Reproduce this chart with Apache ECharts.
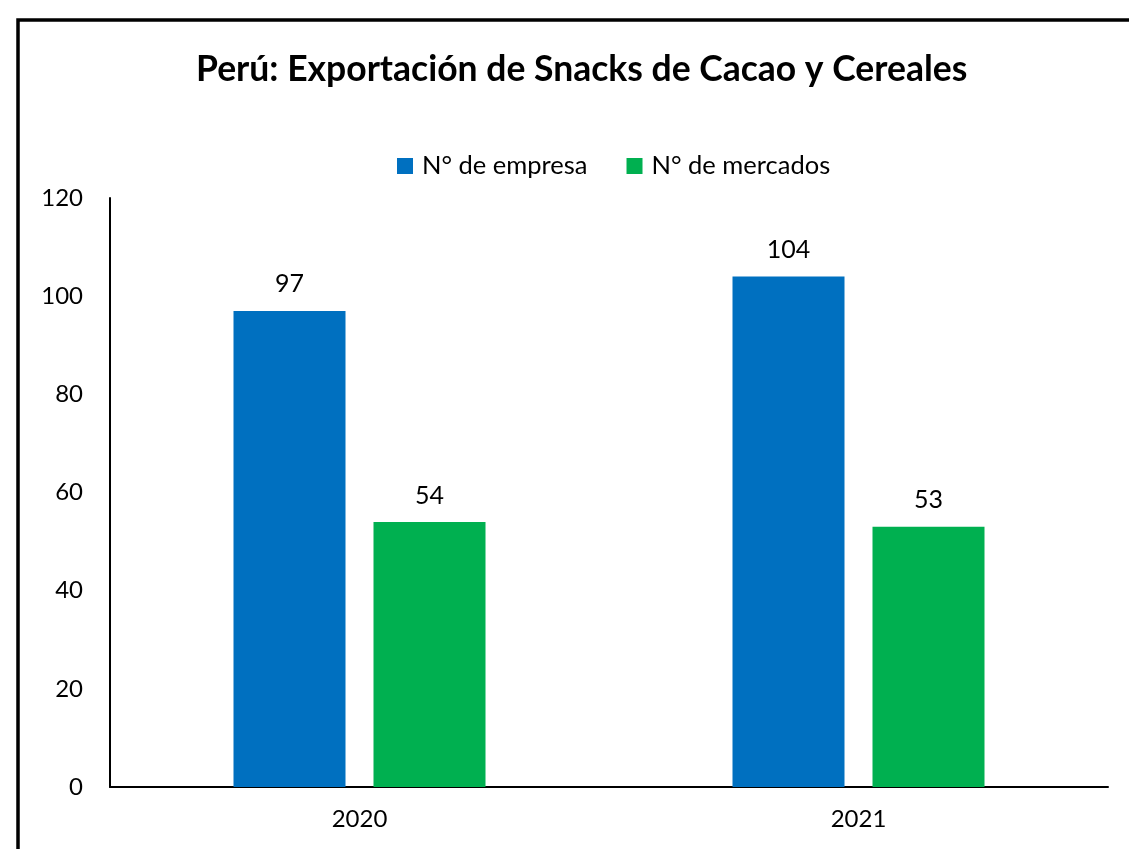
<!DOCTYPE html>
<html>
<head>
<meta charset="utf-8">
<script src="https://cdn.jsdelivr.net/npm/echarts@6/dist/echarts.min.js"></script>
<style>
  html, body { margin: 0; padding: 0; background: #fff; }
  #chart { width: 1129px; height: 849px; }
</style>
</head>
<body>
<div id="chart"></div>
<script>
const years = ['2020', '2021'];
const empresas = [97, 104];
const mercados = [54, 53];
const yTicks = [0, 20, 40, 60, 80, 100, 120];

const chart = echarts.init(document.getElementById('chart'));
const fontFamily = 'Lato, "Open Sans", sans-serif';

const labelStyle = {
    show: true,
    position: 'top',
    distance: 14,
    color: '#000',
    fontSize: 25,
    fontFamily: fontFamily
};

chart.setOption({
    animation: false,
    title: {
        text: 'Perú: Exportación de Snacks de Cacao y Cereales',
        left: 191,
        top: 47,
        textStyle: { fontSize: 35.5, fontWeight: 'bold', color: '#000', fontFamily: fontFamily }
    },
    legend: {
        top: 148,
        left: 392,
        itemWidth: 16,
        itemHeight: 16,
        itemGap: 39,
        icon: 'rect',
        textStyle: { fontSize: 25.5, color: '#000', fontFamily: fontFamily, padding: [0, 0, 0, 4] }
    },
    graphic: [{
        type: 'rect',
        shape: { x: 18, y: 20, width: 1200, height: 900 },
        style: { fill: 'none', stroke: '#000', lineWidth: 3.5 },
        silent: true
    }],
    grid: { left: 110, right: 21, top: 198, bottom: 62 },
    xAxis: {
        type: 'category',
        data: years,
        axisLine: { lineStyle: { color: '#000', width: 2 } },
        axisTick: { show: false },
        axisLabel: { color: '#000', fontSize: 24, margin: 20, fontFamily: fontFamily }
    },
    yAxis: {
        type: 'value',
        min: yTicks[0],
        max: yTicks[yTicks.length - 1],
        interval: 20,
        axisLine: { show: true, lineStyle: { color: '#000', width: 2 } },
        axisTick: { show: false },
        splitLine: { show: false },
        axisLabel: { color: '#000', fontSize: 24, margin: 27, fontFamily: fontFamily }
    },
    series: [
        {
            name: 'N° de empresa',
            type: 'bar',
            data: empresas,
            barWidth: 112,
            barGap: '25%',
            itemStyle: { color: '#0070C0' },
            label: labelStyle
        },
        {
            name: 'N° de mercados',
            type: 'bar',
            data: mercados,
            barWidth: 112,
            itemStyle: { color: '#00B050' },
            label: labelStyle
        }
    ]
});
</script>
</body>
</html>
